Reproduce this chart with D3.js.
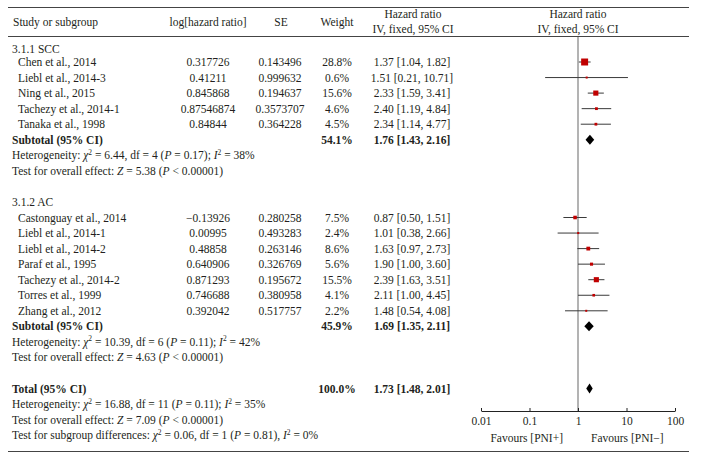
<!DOCTYPE html>
<html><head><meta charset="utf-8">
<script src="https://cdn.jsdelivr.net/npm/d3@7"></script>
<style>
html,body{margin:0;padding:0;background:#fff;}
svg{display:block;font-family:"Liberation Serif","Times New Roman",serif;font-size:11.5px;fill:#231f20;}
</style></head><body>
<svg id="c" width="703" height="460"></svg>
<script>
// ---- data ----
const sccStudies = ["Chen et al., 2014","Liebl et al., 2014-3","Ning et al., 2015","Tachezy et al., 2014-1","Tanaka et al., 1998"];
const sccLogHR = ["0.317726","0.41211","0.845868","0.87546874","0.84844"];
const sccSE = ["0.143496","0.999632","0.194637","0.3573707","0.364228"];
const sccWeight = [28.8, 0.6, 15.6, 4.6, 4.5];
const sccHR = [1.37, 1.51, 2.33, 2.40, 2.34];
const sccLow = [1.04, 0.21, 1.59, 1.19, 1.14];
const sccHigh = [1.82, 10.71, 3.41, 4.84, 4.77];

const acStudies = ["Castonguay et al., 2014","Liebl et al., 2014-1","Liebl et al., 2014-2","Paraf et al., 1995","Tachezy et al., 2014-2","Torres et al., 1999","Zhang et al., 2012"];
const acLogHR = ["\u22120.13926","0.00995","0.48858","0.640906","0.871293","0.746688","0.392042"];
const acSE = ["0.280258","0.493283","0.263146","0.326769","0.195672","0.380958","0.517757"];
const acWeight = [7.5, 2.4, 8.6, 5.6, 15.5, 4.1, 2.2];
const acHR = [0.87, 1.01, 1.63, 1.90, 2.39, 2.11, 1.48];
const acLow = [0.50, 0.38, 0.97, 1.00, 1.63, 1.00, 0.54];
const acHigh = [1.51, 2.66, 2.73, 3.60, 3.51, 4.45, 4.08];

const pooledLabels = ["Subtotal (95% CI)","Subtotal (95% CI)","Total (95% CI)"];
const pooledWeight = ["54.1%","45.9%","100.0%"];
const pooledHR = [1.76, 1.69, 1.73];
const pooledLow = [1.43, 1.35, 1.48];
const pooledHigh = [2.16, 2.11, 2.01];

const axisTicks = [0.01, 0.1, 1, 10, 100];
const favourLabels = ["Favours [PNI+]", "Favours [PNI\u2212]"];

// ---- layout ----
const svg = d3.select("#c");
const x = d3.scaleLog().domain([0.01, 100]).range([481, 675]);
const rowY = d3.scaleLinear().domain([0, 1]).range([62, 77.55]);
const col = {name: 18, group: 12, log: 208, se: 280, w: 337, hr: 412};
const fmt = d3.format(".2f");
const lineColor = "#3a3a3a";

// frame lines
[7.5, 36.5, 451.5].forEach(yv => svg.append("line").attr("x1", 8).attr("x2", 689).attr("y1", yv).attr("y2", yv)
  .attr("stroke", "#444").attr("stroke-width", 1));

function txt(xv, yv, s, anchor, bold) {
  return svg.append("text").attr("x", xv).attr("y", yv).attr("dy", "0.35em")
    .attr("text-anchor", anchor || "start").attr("font-weight", bold ? "bold" : null).text(s);
}
// rich text with italics / superscript
function rich(xv, yv, segs) {
  const t = svg.append("text").attr("x", xv).attr("y", yv).attr("dy", "0.35em");
  let shifted = false;
  segs.forEach(sg => {
    const ts = t.append("tspan").text(sg.t);
    if (sg.i) ts.attr("font-style", "italic");
    if (sg.sup) { ts.attr("font-size", "7.5px").attr("dy", "-4.5"); shifted = true; }
    else if (shifted) { ts.attr("dy", "4.5"); shifted = false; }
  });
  return t;
}

// headers
txt(13, 22, "Study or subgroup");
txt(col.log, 22, "log[hazard ratio]", "middle");
txt(col.se + 1, 22, "SE", "middle");
txt(col.w, 22, "Weight", "middle");
txt(col.hr + 1, 13.5, "Hazard ratio", "middle");
txt(col.hr + 1, 29, "IV, fixed, 95% CI", "middle");
txt(578, 13.5, "Hazard ratio", "middle");
txt(578, 29, "IV, fixed, 95% CI", "middle");

// reference line
svg.append("line").attr("x1", x(1)).attr("x2", x(1)).attr("y1", 37).attr("y2", 411)
  .attr("stroke", "#9a9a9a").attr("stroke-width", 1.5);

function studyRows(names, logs, ses, ws, hrs, lows, highs, startIdx) {
  names.forEach((n, i) => {
    const yv = rowY(startIdx + i);
    txt(col.name, yv, n);
    txt(col.log, yv, logs[i], "middle");
    txt(col.se, yv, ses[i], "middle");
    txt(col.w, yv, ws[i].toFixed(1) + "%", "middle");
    txt(col.hr, yv, fmt(hrs[i]) + " [" + fmt(lows[i]) + ", " + fmt(highs[i]) + "]", "middle");
    svg.append("line").attr("x1", x(lows[i])).attr("x2", x(highs[i])).attr("y1", yv).attr("y2", yv)
      .attr("stroke", lineColor).attr("stroke-width", 1);
    const s = Math.max(2, Math.sqrt(ws[i]) * 1.3);
    svg.append("rect").attr("x", x(hrs[i]) - s / 2).attr("y", yv - s / 2).attr("width", s).attr("height", s)
      .attr("fill", "#c00000");
  });
}
function pooled(k, idx) {
  const yv = rowY(idx);
  txt(col.group, yv, pooledLabels[k], "start", true);
  txt(col.w, yv, pooledWeight[k], "middle", true);
  txt(col.hr, yv, fmt(pooledHR[k]) + " [" + fmt(pooledLow[k]) + ", " + fmt(pooledHigh[k]) + "]", "middle", true);
  const h = 5;
  svg.append("path").attr("d", `M${x(pooledLow[k])},${yv} L${x(pooledHR[k])},${yv - h} L${x(pooledHigh[k])},${yv} L${x(pooledHR[k])},${yv + h} Z`)
    .attr("fill", "#000");
}
function het(idx, chi, df, p, i2, sep) {
  rich(col.group, rowY(idx), [{t: "Heterogeneity: "}, {t: "\u03c7", i: 1}, {t: "2", sup: 1},
    {t: " = " + chi + ", df = " + df + " ("}, {t: "P", i: 1}, {t: " = " + p + ")" + (sep || ";") + " "},
    {t: "I", i: 1}, {t: "2", sup: 1}, {t: " = " + i2}]);
}
function overall(idx, z) {
  rich(col.group, rowY(idx), [{t: "Test for overall effect: "}, {t: "Z", i: 1}, {t: " = " + z + " ("},
    {t: "P", i: 1}, {t: " < 0.00001)"}]);
}

txt(col.group, 49.3, "3.1.1 SCC");
studyRows(sccStudies, sccLogHR, sccSE, sccWeight, sccHR, sccLow, sccHigh, 0);
pooled(0, 5);
het(6, "6.44", 4, "0.17", "38%");
overall(7, "5.38");

txt(col.group, rowY(9), "3.1.2 AC");
studyRows(acStudies, acLogHR, acSE, acWeight, acHR, acLow, acHigh, 10);
pooled(1, 17);
het(18, "10.39", 6, "0.11", "42%");
overall(19, "4.63");

pooled(2, 21);
het(22, "16.88", 11, "0.11", "35%");
overall(23, "7.09");
rich(col.group, rowY(24), [{t: "Test for subgroup differences: "}, {t: "\u03c7", i: 1}, {t: "2", sup: 1},
  {t: " = 0.06, df = 1 ("}, {t: "P", i: 1}, {t: " = 0.81), "}, {t: "I", i: 1}, {t: "2", sup: 1}, {t: " = 0%"}]);

// axis
const ax = svg.append("g").attr("transform", "translate(0,411)")
  .call(d3.axisBottom(x).tickValues(axisTicks).tickFormat(d => String(d)).tickSizeInner(-3).tickSizeOuter(0).tickPadding(6));
ax.select(".domain").attr("stroke", "#222");
ax.selectAll(".tick line").attr("stroke", "#222");
ax.selectAll("text").attr("font-family", "Liberation Serif, serif").attr("font-size", "11.5px").attr("fill", "#231f20");
txt(x(1) - 15, 438, favourLabels[0], "end");
txt(x(1) + 13, 438, favourLabels[1], "start");
</script></body></html>
